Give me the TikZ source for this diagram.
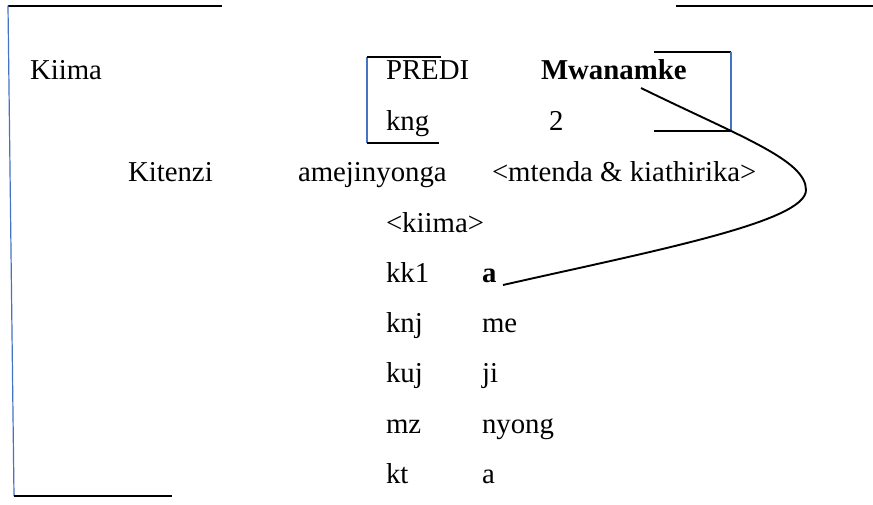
\documentclass[tikz,border=0pt]{standalone}
\usepackage{fontspec}
\setmainfont{Liberation Serif}
\definecolor{rulerblue}{RGB}{68,114,196}
\begin{document}
\begin{tikzpicture}[x=1pt,y=-1pt,
  txt/.style={anchor=base west,inner sep=0pt,outer sep=0pt,
    font=\fontsize{28.8}{34}\selectfont},
  bline/.style={draw=black,line width=2pt},
  vline/.style={draw=rulerblue,line width=1.2pt},
  link/.style={draw=black,line width=1.9pt}]
\useasboundingbox (0,0) rectangle (873,504);

% frame pieces
\draw[bline] (8,5.5) -- (222,5.5);
\draw[bline] (676,5.5) -- (873,5.5);
\draw[vline] (8,5.5) -- (14,496);
\draw[bline] (14,496) -- (172,496);

% bracket round PREDI / kng
\draw[vline] (367,57) -- (367,143);
\draw[bline] (367,57) -- (441,57);
\draw[bline] (367,143) -- (439,143);

% bracket right of Mwanamke
\draw[bline] (654,52) -- (731,52);
\draw[vline] (731,52) -- (731,131);
\draw[bline] (654,131) -- (731,131);

% labels
\node[txt] (kiima) at (30,79) {Kiima};
\node[txt] (predi) at (386,79) {PREDI};
\node[txt,font=\fontsize{28.8}{34}\selectfont\bfseries] (mwanamke) at (541,79) {Mwanamke};
\node[txt] (kng) at (386,130) {kng};
\node[txt] (two) at (549,130) {2};
\node[txt] (kitenzi) at (128,181) {Kitenzi};
\node[txt] (verb) at (298,181) {amejinyonga};
\node[txt] (frame) at (492,181) {<mtenda \& kiathirika>};
\node[txt] (subj) at (386,232) {<kiima>};
\node[txt] (kk) at (386,282) {kk1};
\node[txt,font=\fontsize{28.8}{34}\selectfont\bfseries] (abold) at (482,282) {a};
\node[txt] (knj) at (386,332) {knj};
\node[txt] (me) at (482,332) {me};
\node[txt] (kuj) at (386,382) {kuj};
\node[txt] (ji) at (482,382) {ji};
\node[txt] (mz) at (386,433) {mz};
\node[txt] (nyong) at (482,433) {nyong};
\node[txt] (kt) at (386,483) {kt};
\node[txt] (afinal) at (482,483) {a};

% agreement link from Mwanamke to the subject prefix a
\coordinate (linkstart) at (641,88);
\coordinate (linkturn) at (806,190);
\coordinate (linkend) at (503,285);
\draw[link] (linkstart) .. controls (741,137) and (806,160) .. (linkturn)
  .. controls (806,222) and (653,251) .. (linkend);
\end{tikzpicture}
\end{document}
